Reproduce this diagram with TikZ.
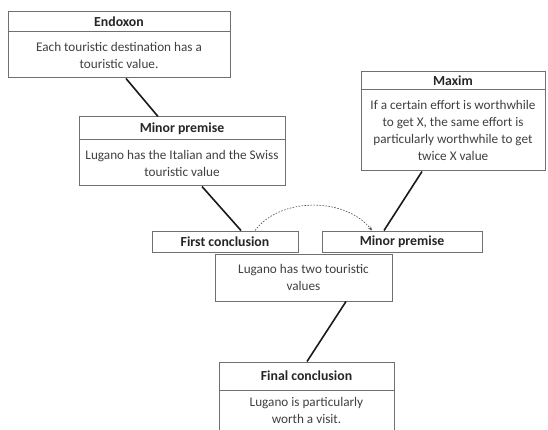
\documentclass[tikz,border=0pt]{standalone}
\usepackage{fontspec}
\setmainfont{Carlito}
\usetikzlibrary{arrows.meta}
\definecolor{boxline}{HTML}{707070}
\definecolor{txt}{HTML}{404040}
\tikzset{
  box/.style={draw=boxline, line width=1pt, fill=white, inner sep=0pt, align=center,
    text=txt, font=\fontsize{13.2}{17}\selectfont},
  head/.style={box, font=\fontsize{13.8}{15}\selectfont\bfseries, text=black!85},
  link/.style={line width=1.6pt, black!90},
  hint/.style={line width=0.6pt, dash pattern=on 1.6pt off 1.4pt, black!70, -{Stealth[length=4pt,width=3.5pt]}}
}
\begin{document}
\begin{tikzpicture}[x=1pt,y=-1pt]
\useasboundingbox (0,0) rectangle (548,430);
\begin{scope}
\clip (0,0) rectangle (548,430);
% Endoxon
\node[head, minimum width=222pt, minimum height=20pt] (endh) at (119,22) {Endoxon};
\node[box, minimum width=222pt, minimum height=46pt] (endb) at (119,55) {Each touristic destination has a\\touristic value.};
% Minor premise 1
\node[head, minimum width=206pt, minimum height=23pt] (m1h) at (182,128.5) {Minor premise};
\node[box, minimum width=206pt, minimum height=46pt] (m1b) at (182,163) {Lugano has the Italian and the Swiss\\touristic value};
% Maxim
\node[head, minimum width=184pt, minimum height=18pt] (maxh) at (453,81) {Maxim};
\node[box, minimum width=184pt, minimum height=81pt] (maxb) at (453,130.5) {If a certain effort is worthwhile\\to get X, the same effort is\\particularly worthwhile to get\\twice X value};
% First conclusion and minor premise 2
\node[head, minimum width=146pt, minimum height=21pt] (fc) at (225,241.5) {First conclusion};
\node[head, minimum width=160pt, minimum height=21pt] (m2) at (402,241.5) {Minor premise};
% Lugano
\node[box, minimum width=177pt, minimum height=47pt] (lug) at (303.5,277.5) {Lugano has two touristic\\values};
% Final conclusion
\node[head, minimum width=175pt, minimum height=28pt] (finh) at (306.5,376) {Final conclusion};
\node[box, minimum width=175pt, minimum height=50pt] (finb) at (306.5,415) {};
\node[text=txt, font=\fontsize{13.2}{17}\selectfont, align=center, inner sep=0pt] (fint) at (306.5,410.5) {Lugano is particularly\\worth a visit.};
% connectors
\draw[link] ([xshift=7pt]endb.south) -- ([xshift=-24pt]m1h.north);
\draw[link] ([xshift=20pt]m1b.south) -- ([xshift=16pt]fc.north);
\draw[link] ([xshift=-31pt]maxb.south) -- ([xshift=-18pt]m2.north);
\draw[link] ([xshift=42.5pt]lug.south) -- ([xshift=0.5pt]finh.north);
\draw[hint] ([xshift=30pt]fc.north) .. controls (280,197) and (345,197) .. ([xshift=-30pt]m2.north);
\end{scope}
\end{tikzpicture}
\end{document}
